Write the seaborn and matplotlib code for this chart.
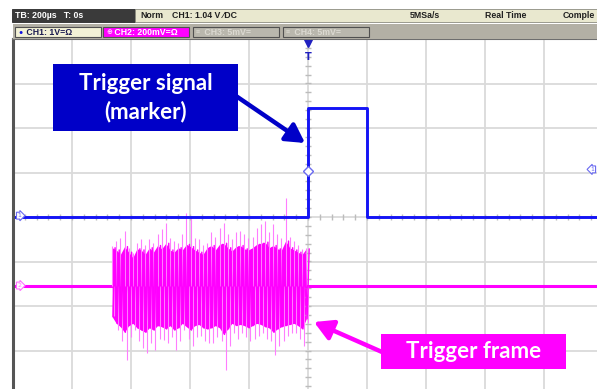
import numpy as np
import matplotlib.pyplot as plt
import seaborn as sns
from matplotlib.patches import Rectangle

sns.set_style('white')

W, H = 597, 389

# CH1 : trigger marker pulse (1 V/div), time in µs (200 µs/div)
ch1_t = [-1000, 0, 0, 200, 200, 1000]
ch1_v = [0.0, 0.0, 2.44, 2.44, 0.0, 0.0]
trig_level = 1.04

# CH2 : radio frame noise burst, mV (200 mV/div)
ch2_offset = -1.54   # divisions
ch2_base_t = [-1000, 1000]
ch2_base_v = [0, 0]
burst_t = [-664, -650, -636, -622, -608, -594, -580, -566, -552, -538, -524, -510,
           -496, -482, -468, -454, -440, -426, -412, -398, -384, -370, -356, -342,
           -328, -314, -300, -286, -272, -258, -244, -230, -216, -202, -188, -174,
           -160, -146, -132, -118, -104, -90, -76, -62, -48, -34, -20, -6]
burst_hi = [177, 200, 215, 245, 170, 147, 190, 207, 180, 207, 190, 230,
            252, 282, 215, 200, 192, 230, 327, 310, 215, 207, 180, 192,
            240, 220, 260, 282, 230, 207, 240, 245, 230, 215, 220, 260,
            275, 290, 240, 275, 230, 215, 395, 220, 200, 180, 162, 170]
burst_lo = [-138, -200, -250, -333, -230, -198, -250, -280, -303, -260, -288, -240,
            -243, -260, -230, -288, -250, -198, -240, -273, -230, -228, -250, -260,
            -258, -230, -250, -378, -270, -213, -240, -213, -230, -250, -240, -225,
            -213, -240, -250, -310, -270, -250, -228, -213, -213, -240, -273, -168]
core_hi = [170, 160, 140, 175, 150, 125, 165, 160, 140, 170, 150, 180,
           165, 190, 160, 150, 170, 160, 185, 175, 160, 150, 140, 170,
           180, 160, 185, 190, 170, 155, 175, 180, 165, 160, 170, 185,
           190, 195, 170, 180, 165, 160, 200, 170, 160, 150, 140, 165]
core_lo = [-140, -170, -185, -210, -180, -170, -190, -200, -210, -190, -200, -180,
           -185, -195, -180, -200, -190, -170, -185, -200, -180, -175, -190, -195,
           -190, -180, -190, -220, -195, -170, -180, -175, -180, -190, -180, -170,
           -175, -185, -190, -210, -195, -185, -180, -175, -170, -180, -195, -150]

blue = '#1414f5'
mag = '#ff00ff'

def mv2div(v):
    return np.asarray(v, dtype=float) / 200.0 + ch2_offset

fig = plt.figure(figsize=(W / 100, H / 100), dpi=100)
fig.patch.set_facecolor('white')

# scope screen: 10 x 8 divisions, 59 px x 44.5 px each, centre at (308, 217)
x_right = -1000 + (W - 13) / 59 * 200
y_bot = -(H - 217) / 44.5
ax = fig.add_axes([13 / W, 0, (W - 13) / W, (H - 39) / H])
ax.set_xlim(-1000, x_right)
ax.set_ylim(y_bot, 4.0)
ax.set_xticks(np.arange(-800, 1000, 200))
ax.set_yticks(np.arange(-3, 4, 1))
ax.tick_params(length=0, labelbottom=False, labelleft=False)
ax.grid(True, color='#dadada', lw=1.3)
for s in ['right', 'bottom']:
    ax.spines[s].set_visible(False)
ax.spines['left'].set_color('#555555')
ax.spines['left'].set_linewidth(2.2)
ax.spines['top'].set_color('#6e6e6e')
ax.spines['top'].set_linewidth(1.5)

# small graticule ticks on the centre lines
vt = np.arange(-3.8, 3.9, 0.2)
ax.plot(np.zeros_like(vt), vt, ls='none', marker='_', ms=4, color='#bcbcbc', mew=1)
ht = np.arange(-960, 980, 40)
ax.plot(ht, np.zeros_like(ht), ls='none', marker='|', ms=4, color='#bcbcbc', mew=1)

# CH2 trace: idle level, then the burst (peaks as thin spikes, dense core filled)
sns.lineplot(x=ch2_base_t, y=mv2div(ch2_base_v), color=mag, lw=2.2, ax=ax,
             estimator=None, sort=False)
bt = np.array(burst_t)
ax.vlines(bt, mv2div(np.zeros(len(bt))), mv2div(burst_hi), color='#ff7dff', lw=0.8)
ax.vlines(bt + 7, mv2div(burst_lo), mv2div(np.zeros(len(bt))), color='#ff7dff', lw=0.8)
ax.fill_between(burst_t, mv2div(core_lo), mv2div(core_hi), color=mag, lw=0)
zc_t = np.column_stack([bt + 3, bt + 10]).ravel()
zc_v = mv2div(np.column_stack([core_lo, core_hi]).ravel())
sns.lineplot(x=zc_t, y=zc_v, color=mag, lw=1.0, ax=ax, estimator=None, sort=False)

# CH1 trace
sns.lineplot(x=ch1_t, y=ch1_v, color=blue, lw=2.1, ax=ax, estimator=None, sort=False)

# trigger markers
ax.plot(0, trig_level, marker='D', ms=5, mfc='white', mec='#6a6af0', mew=1)
ax.plot(0, 3.92, marker='v', ms=6, color='#2020c0')
ax.text(0, 3.6, 'T', ha='center', va='center', fontsize=7, color='#2020c0',
        fontweight='bold')
ax.text(-985, 0.03, '1', ha='left', va='center', fontsize=4.5, color='#6a6af0',
        bbox=dict(boxstyle='rarrow,pad=0.15', fc='white', ec='#6a6af0', lw=0.8))
ax.text(-985, ch2_offset, '2', ha='left', va='center', fontsize=4.5, color='#ff70ff',
        bbox=dict(boxstyle='rarrow,pad=0.15', fc='white', ec='#ff70ff', lw=0.8))
ax.text(x_right - 8, trig_level + 0.03, '1', ha='right', va='center', fontsize=4.5,
        color='#6a6af0',
        bbox=dict(boxstyle='larrow,pad=0.15', fc='white', ec='#6a6af0', lw=0.8))

# overlay in pixel coordinates: status bars and callouts
ov = fig.add_axes([0, 0, 1, 1])
ov.set_xlim(0, W)
ov.set_ylim(H, 0)
ov.axis('off')
ov.patch.set_alpha(0)

hf = ['Liberation Sans', 'DejaVu Sans']
ov.add_patch(Rectangle((12, 9), 123, 13, fc='#3a3a3a', ec='#2a2a2a', lw=0.6))
ov.add_patch(Rectangle((135, 9), 470, 13, fc='#e9e8cf', ec='#8c8c80', lw=0.6))
ov.text(15, 15.5, 'TB: 200µs   T: 0s', color='white', fontsize=6.3, fontweight='bold',
        va='center', family=hf)
ov.text(140, 15.5, 'Norm', color='#202020', fontsize=6.3, fontweight='bold',
        va='center', family=hf)
ov.text(172, 15.5, 'CH1: 1.04 V ⁄DC', color='#202020', fontsize=6.3, fontweight='bold',
        va='center', family=hf)
ov.text(410, 15.5, '5MSa/s', color='#202020', fontsize=6.3, fontweight='bold',
        va='center', family=hf)
ov.text(485, 15.5, 'Real Time', color='#202020', fontsize=6.3, fontweight='bold',
        va='center', family=hf)
ov.text(563, 15.5, 'Comple', color='#202020', fontsize=6.3, fontweight='bold',
        va='center', family=hf)

ov.add_patch(Rectangle((13, 24), 590, 15, fc='#b3b0a5', lw=0))
buttons = [(15, '●', ' CH1: 1V=Ω', '#f2f1d6', '#1a1a50', '#1010e0'),
           (103, '⊕', ' CH2: 200mV=Ω', mag, 'white', 'white'),
           (193, '≡', ' CH3: 5mV=', '#b9b7ad', '#dcdad2', '#dcdad2'),
           (283, '≡', ' CH4: 5mV=', '#b9b7ad', '#dcdad2', '#dcdad2')]
for bx, sym, lab, fc, tc, sc in buttons:
    ov.add_patch(Rectangle((bx, 27), 86, 10, fc=fc, ec='#505050', lw=0.8))
    ov.text(bx + 3, 32, sym, color=sc, fontsize=5, va='center', family=hf)
    ov.text(bx + 9, 32, lab, color=tc, fontsize=6.3, fontweight='bold', va='center',
            family=hf)

cf = ['Lato', 'DejaVu Sans']
ov.add_patch(Rectangle((53, 64), 185, 67, fc='#0000c8', lw=0, zorder=5))
ov.text(145.5, 83, 'Trigger signal', color='white', fontsize=16, fontweight='bold',
        ha='center', va='center', family=cf, zorder=6)
ov.text(145.5, 112, '(marker)', color='white', fontsize=16, fontweight='bold',
        ha='center', va='center', family=cf, zorder=6)
ov.annotate('', xy=(305, 143), xytext=(236, 96), zorder=6,
            arrowprops=dict(arrowstyle='-|>,head_length=0.8,head_width=0.45',
                            color='#0000c8', lw=3.2, mutation_scale=14,
                            shrinkA=0, shrinkB=0))

ov.add_patch(Rectangle((381, 334), 185, 35, fc=mag, lw=0, zorder=5))
ov.text(473.5, 351, 'Trigger frame', color='white', fontsize=16, fontweight='bold',
        ha='center', va='center', family=cf, zorder=6)
ov.annotate('', xy=(314, 322), xytext=(382, 352), zorder=6,
            arrowprops=dict(arrowstyle='-|>,head_length=0.8,head_width=0.45',
                            color=mag, lw=3.2, mutation_scale=14,
                            shrinkA=0, shrinkB=0))

fig.savefig('out.png', dpi=100)
